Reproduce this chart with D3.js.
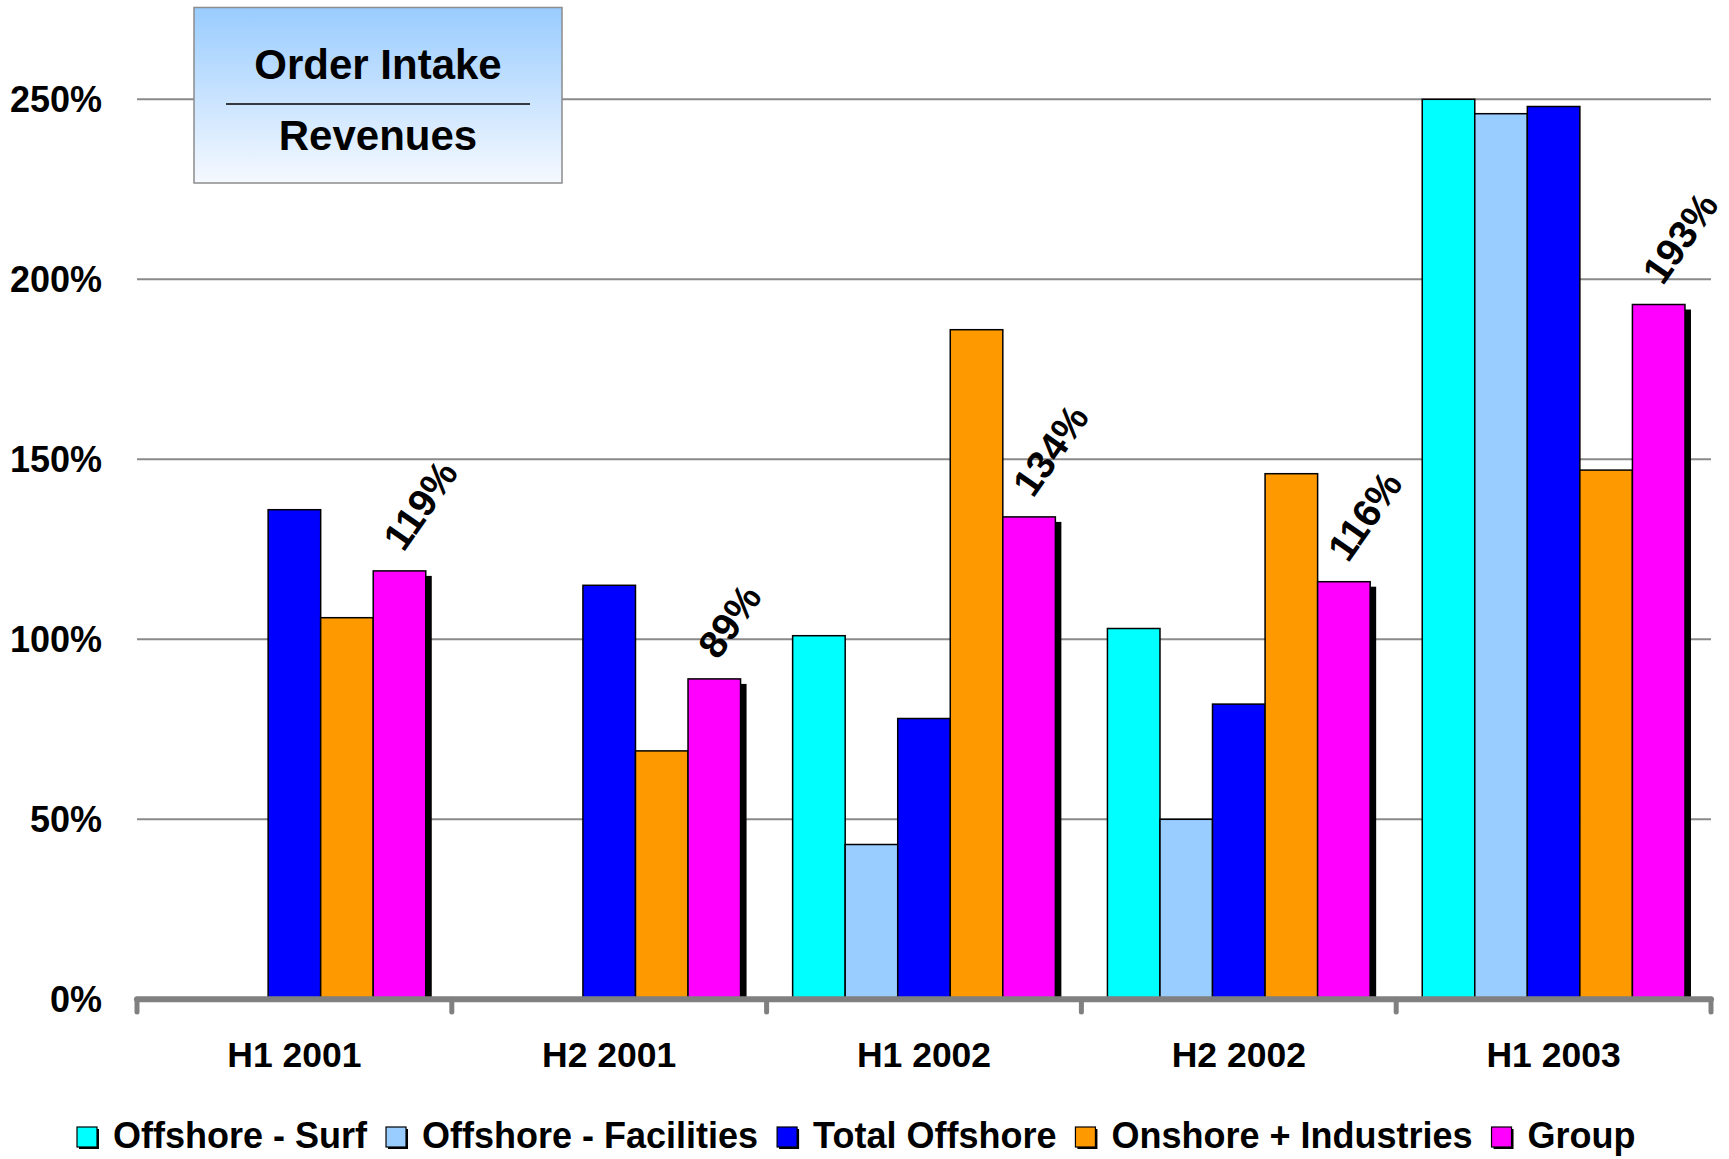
<!DOCTYPE html>
<html>
<head>
<meta charset="utf-8">
<script src="https://cdn.jsdelivr.net/npm/d3@7"></script>
<style>
  html, body { margin: 0; padding: 0; background: #fff; }
  svg text { font-family: "Liberation Sans", Arial, sans-serif; font-weight: bold; fill: #000; }
</style>
</head>
<body>
<div id="chart"></div>
<script>
// chart data
const periods = ["H1 2001", "H2 2001", "H1 2002", "H2 2002", "H1 2003"];
const seriesNames = ["Offshore - Surf", "Offshore - Facilities", "Total Offshore", "Onshore + Industries", "Group"];
const seriesColors = ["#00ffff", "#99ccff", "#0000ff", "#ff9900", "#ff00ff"];
const offshoreSurf = [null, null, 101, 103, 250];
const offshoreFacilities = [null, null, 43, 50, 246];
const totalOffshore = [136, 115, 78, 82, 248];
const onshoreIndustries = [106, 69, 186, 146, 147];
const group = [119, 89, 134, 116, 193];
const yTicks = [0, 50, 100, 150, 200, 250];

const seriesValues = [offshoreSurf, offshoreFacilities, totalOffshore, onshoreIndustries, group];

const width = 1729, height = 1159;
const plotLeft = 137, plotRight = 1711, plotTop = 99.3, plotBottom = 999.3;

const svg = d3.select('#chart').append('svg')
    .attr('width', width)
    .attr('height', height);

const defs = svg.append('defs');
const grad = defs.append('linearGradient')
    .attr('id', 'boxGrad')
    .attr('x1', 0).attr('y1', 0).attr('x2', 0).attr('y2', 1);
grad.append('stop').attr('offset', '0%').attr('stop-color', '#99ccff');
grad.append('stop').attr('offset', '100%').attr('stop-color', '#f6f9ff');

const x0 = d3.scaleBand().domain(periods).range([plotLeft, plotRight]).padding(0);
const inner = x0.bandwidth() * 0.0827;
const x1 = d3.scaleBand().domain(seriesNames).range([inner, x0.bandwidth() - inner]).padding(0);
const y = d3.scaleLinear().domain([0, 250]).range([plotBottom, plotTop]);

// gridlines
svg.append('g')
    .selectAll('line')
    .data(yTicks.filter(d => d > 0))
    .join('line')
    .attr('x1', plotLeft).attr('x2', plotRight)
    .attr('y1', d => y(d)).attr('y2', d => y(d))
    .attr('stroke', '#8a8a8a')
    .attr('stroke-width', 2);

// y labels
svg.append('g')
    .selectAll('text')
    .data(yTicks)
    .join('text')
    .attr('x', 102)
    .attr('y', d => y(d) + 13)
    .attr('text-anchor', 'end')
    .attr('font-size', '36px')
    .text(d => d + '%');

// bars
const rows = periods.map((p, i) => seriesNames.map((s, j) => ({ period: p, series: s, j: j, value: seriesValues[j][i] })));

const groups = svg.append('g')
    .selectAll('g')
    .data(rows)
    .join('g')
    .attr('transform', (d, i) => `translate(${x0(periods[i])},0)`);

// shadow for Group bars
groups.selectAll('rect.shadow')
    .data(d => d.filter(b => b.value != null && b.series === 'Group'))
    .join('rect')
    .attr('class', 'shadow')
    .attr('x', d => x1(d.series) + 6)
    .attr('y', d => y(d.value) + 5)
    .attr('width', x1.bandwidth())
    .attr('height', d => plotBottom - y(d.value) - 5)
    .attr('fill', '#000');

groups.selectAll('rect.bar')
    .data(d => d.filter(b => b.value != null))
    .join('rect')
    .attr('class', 'bar')
    .attr('x', d => x1(d.series))
    .attr('y', d => y(d.value))
    .attr('width', x1.bandwidth())
    .attr('height', d => plotBottom - y(d.value))
    .attr('fill', d => seriesColors[d.j])
    .attr('stroke', '#000')
    .attr('stroke-width', 1.5);

// rotated value labels for Group
groups.selectAll('text.lbl')
    .data(d => d.filter(b => b.value != null && b.series === 'Group'))
    .join('text')
    .attr('class', 'lbl')
    .attr('font-size', '39px')
    .attr('transform', d => `translate(${x1(d.series) + x1.bandwidth() / 2 + 4},${y(d.value) - 18}) rotate(-55)`)
    .text(d => d.value + '%');

// x axis baseline and ticks
const axis = svg.append('g');
axis.append('line')
    .attr('x1', plotLeft).attr('x2', plotRight)
    .attr('y1', plotBottom).attr('y2', plotBottom)
    .attr('stroke', '#808080')
    .attr('stroke-width', 6)
    .attr('stroke-linecap', 'round');
const tickPos = periods.map(p => x0(p)).concat([plotRight]);
axis.selectAll('line.tick')
    .data(tickPos)
    .join('line')
    .attr('class', 'tick')
    .attr('x1', d => d).attr('x2', d => d)
    .attr('y1', plotBottom).attr('y2', 1012)
    .attr('stroke', '#808080')
    .attr('stroke-width', 5)
    .attr('stroke-linecap', 'round');

axis.selectAll('text')
    .data(periods)
    .join('text')
    .attr('x', d => x0(d) + x0.bandwidth() / 2)
    .attr('y', 1067)
    .attr('text-anchor', 'middle')
    .attr('font-size', '35.5px')
    .text(d => d);

// title box
const box = svg.append('g');
box.append('rect')
    .attr('x', 194).attr('y', 7.5)
    .attr('width', 368).attr('height', 175.5)
    .attr('fill', 'url(#boxGrad)')
    .attr('stroke', '#8c8c8c')
    .attr('stroke-width', 1.5);
box.append('text')
    .attr('x', 378).attr('y', 79)
    .attr('text-anchor', 'middle')
    .attr('font-size', '42px')
    .text('Order Intake');
box.append('line')
    .attr('x1', 226).attr('x2', 530)
    .attr('y1', 104).attr('y2', 104)
    .attr('stroke', '#000')
    .attr('stroke-width', 1.5);
box.append('text')
    .attr('x', 378).attr('y', 150)
    .attr('text-anchor', 'middle')
    .attr('font-size', '42px')
    .text('Revenues');

// legend
const legend = svg.append('g');
let lx = 77;
seriesNames.forEach((name, i) => {
    legend.append('rect')
        .attr('x', lx + 2).attr('y', 1127 + 2)
        .attr('width', 20).attr('height', 20)
        .attr('fill', '#000');
    legend.append('rect')
        .attr('x', lx).attr('y', 1127)
        .attr('width', 20).attr('height', 20)
        .attr('fill', seriesColors[i])
        .attr('stroke', '#000')
        .attr('stroke-width', 1.2);
    const t = legend.append('text')
        .attr('x', lx + 36)
        .attr('y', 1148)
        .attr('font-size', '36px')
        .text(name);
    lx = lx + 36 + t.node().getComputedTextLength() + 19;
});
</script>
</body>
</html>
